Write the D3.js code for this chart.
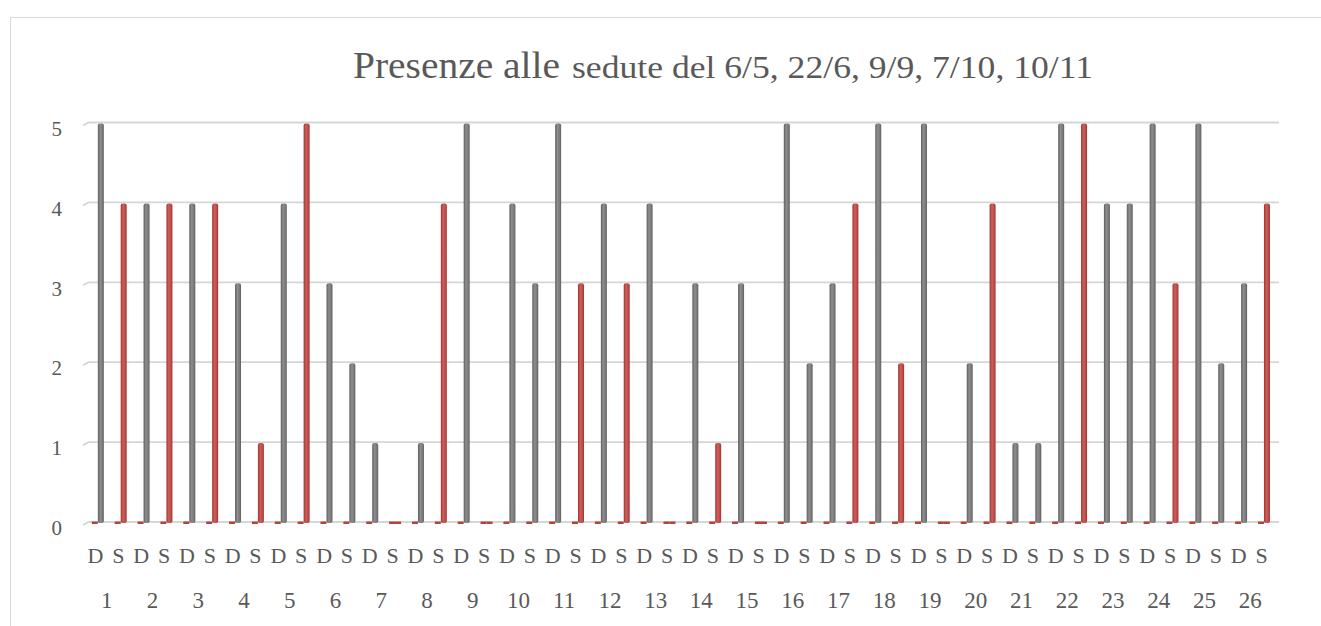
<!DOCTYPE html>
<html>
<head>
<meta charset="utf-8">
<script src="https://cdn.jsdelivr.net/npm/d3@7/dist/d3.min.js"></script>
<style>
  html, body { margin: 0; padding: 0; background: #ffffff; }
  svg { display: block; }
</style>
</head>
<body>
<svg id="chart" width="1321" height="626"></svg>
<script>
// ---- DATA ----
const titoloGrande = "Presenze alle";
const titoloPiccolo = "sedute del 6/5, 22/6, 9/9, 7/10, 10/11";
const gruppi = ["1","2","3","4","5","6","7","8","9","10","11","12","13","14","15","16","17","18","19","20","21","22","23","24","25","26"];
const sedute = ["D", "S"];
const valoriD = [5,4,4,3,4,3,1,1,5,4,5,4,4,3,3,5,3,5,5,2,1,5,4,5,5,3];
const valoriS = [4,4,4,1,5,2,0,4,0,3,3,3,0,1,0,2,4,2,0,4,1,5,4,3,2,4];
// 1 = red bar, 0 = grey bar (S column)
const rossoS  = [1,1,1,1,1,0,1,1,1,0,1,1,1,1,1,0,1,1,1,1,0,1,0,1,0,1];
// second (empty) series shown as flat slivers
const serieVuotaD = [0,0,0,0,0,0,0,0,0,0,0,0,0,0,0,0,0,0,0,0,0,0,0,0,0,0];
const serieVuotaS = [0,0,0,0,0,0,0,0,0,0,0,0,0,0,0,0,0,0,0,0,0,0,0,0,0,0];
const yTicks = [0,1,2,3,4,5];

// ---- BUILD ----
const svg = d3.select("#chart");
const FONT = "'Liberation Serif', 'DejaVu Serif', serif";
const TXT = "#595959";

// chart border
svg.append("rect").attr("x", 10.5).attr("y", 17.5).attr("width", 1330).attr("height", 640)
  .attr("fill", "#fff").attr("stroke", "#d9d9d9").attr("stroke-width", 1);

// title
svg.append("text").attr("x", 353).attr("y", 78).attr("font-family", FONT).attr("font-size", 37)
  .attr("fill", TXT).attr("textLength", 207).attr("lengthAdjust", "spacingAndGlyphs").text(titoloGrande);
svg.append("text").attr("x", 572).attr("y", 78).attr("font-family", FONT).attr("font-size", 31)
  .attr("fill", TXT).attr("textLength", 521).attr("lengthAdjust", "spacingAndGlyphs").text(titoloPiccolo);

// slots
const slots = [];
gruppi.forEach((g, i) => {
  slots.push({ key: g + "-D", gruppo: g, seduta: "D", v: valoriD[i], vuota: serieVuotaD[i], rosso: 0 });
  slots.push({ key: g + "-S", gruppo: g, seduta: "S", v: valoriS[i], vuota: serieVuotaS[i], rosso: rossoS[i] });
});

const x0 = d3.scaleBand().domain(gruppi).range([84, 1273]).padding(0);
const x1 = d3.scaleBand().domain(sedute).range([0, x0.bandwidth()]).padding(0);
const xs = d3.scaleBand().domain(["vuota", "valore"]).range([-3.6, 8.4]).padding(0);
const y = d3.scaleLinear().domain([0, 5]).range([523, 123.5]);

const slotCenter = d => x0(d.gruppo) + x1(d.seduta) + x1.bandwidth() / 2;

// gridlines (with small 3D floor offset at left)
const grid = svg.append("g");
yTicks.forEach(t => {
  const yb = y(t) - 1;
  grid.append("path")
    .attr("d", `M83,${yb + 3} L88.5,${yb} L1279,${yb}`)
    .attr("fill", "none").attr("stroke", "#d6d6d6").attr("stroke-width", 1.8);
});

// y labels
const yAxis = svg.append("g").attr("transform", "translate(62,0)")
  .call(d3.axisLeft(y).tickValues(yTicks).tickSize(0).tickPadding(0).tickFormat(d3.format("d")));
yAxis.select(".domain").remove();
yAxis.selectAll("text").attr("font-family", FONT).attr("font-size", 21).attr("fill", TXT)
  .attr("dy", "0.32em").attr("transform", "translate(0,5)");

// gradients
const defs = svg.append("defs");
function grad(id, dark, mid, light) {
  const lg = defs.append("linearGradient").attr("id", id).attr("x1", "0").attr("x2", "1").attr("y1", "0").attr("y2", "0");
  lg.append("stop").attr("offset", "0%").attr("stop-color", dark);
  lg.append("stop").attr("offset", "40%").attr("stop-color", light);
  lg.append("stop").attr("offset", "75%").attr("stop-color", mid);
  lg.append("stop").attr("offset", "100%").attr("stop-color", dark);
}
grad("gGrey", "#5e5e5e", "#7a7a7a", "#8e8e8e");
grad("gRed", "#9a3633", "#bd4a47", "#cf5e5b");

// empty-series slivers
svg.append("g").selectAll("rect").data(slots).join("rect")
  .attr("x", d => slotCenter(d) + xs("vuota"))
  .attr("y", d => y(d.vuota) - 1.5)
  .attr("width", xs.bandwidth())
  .attr("height", 2.5)
  .attr("fill", "#b4423f");

// value bars
svg.append("g").selectAll("rect").data(slots).join("rect")
  .attr("x", d => slotCenter(d) + xs("valore"))
  .attr("y", d => d.v > 0 ? y(d.v) : y(0) - 1.5)
  .attr("width", xs.bandwidth())
  .attr("height", d => d.v > 0 ? y(0) - y(d.v) : 2.5)
  .attr("rx", d => d.v > 0 ? 2 : 0)
  .attr("fill", d => d.v > 0 ? (d.rosso ? "url(#gRed)" : "url(#gGrey)") : (d.rosso ? "#b4423f" : "#777"));

// x labels: D / S
svg.append("g").selectAll("text").data(slots).join("text")
  .attr("x", d => slotCenter(d)).attr("y", 563)
  .attr("text-anchor", "middle").attr("font-family", FONT).attr("font-size", 22).attr("fill", TXT)
  .text(d => d.seduta);

// x labels: groups
const xAxis = svg.append("g").attr("transform", "translate(0,608)")
  .call(d3.axisBottom(x0).tickSize(0).tickPadding(0));
xAxis.select(".domain").remove();
xAxis.selectAll("text").attr("font-family", FONT).attr("font-size", 23).attr("fill", TXT)
  .attr("dy", 0).attr("y", 0);
</script>
</body>
</html>
